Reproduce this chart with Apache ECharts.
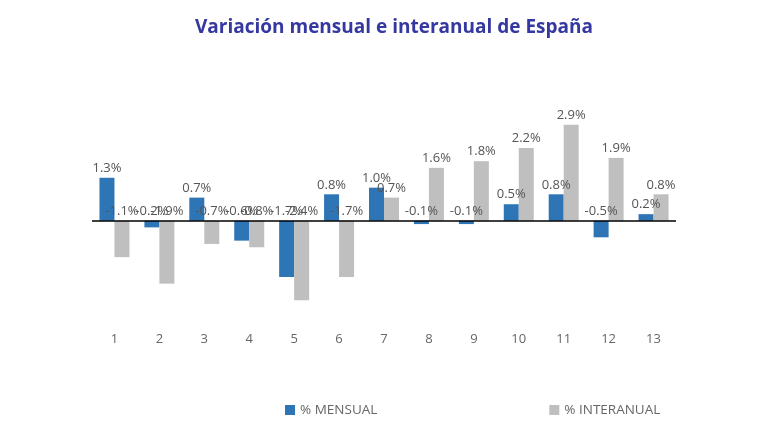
<!DOCTYPE html>
<html>
<head>
    <meta http-equiv="Content-type" content="text/html; charset=utf-8">
    <title>Variación mensual e interanual de España</title>
    <script src="https://cdn.jsdelivr.net/npm/echarts@6/dist/echarts.min.js"></script>
    <style>
        html, body { margin: 0; padding: 0; background: #fff; }
        #container { width: 768px; height: 443px; }
    </style>
</head>
<body>
    <div id="container"></div>
</body>
<script type="text/javascript">
var categories = ['1','2','3','4','5','6','7','8','9','10','11','12','13'];
var mensual    = [1.3, -0.2, 0.7, -0.6, -1.7, 0.8, 1.0, -0.1, -0.1, 0.5, 0.8, -0.5, 0.2];
var interanual = [-1.1, -1.9, -0.7, -0.8, -2.4, -1.7, 0.7, 1.6, 1.8, 2.2, 2.9, 1.9, 0.8];

var dom = document.getElementById("container");
var myChart = echarts.init(dom);

var labelStyle = {
    show: true,
    position: 'top',
    distance: 3,
    color: '#555',
    fontFamily: 'Open Sans',
    fontSize: 13,
    formatter: function (p) { return p.value.toFixed(1) + '%'; }
};

option = {
    animation: false,
    title: {
        text: 'Variación mensual e interanual de España',
        left: 190,
        top: 13,
        textStyle: {
            color: '#3538a0',
            fontFamily: 'Open Sans',
            fontWeight: 'bold',
            fontSize: 19
        }
    },
    legend: {
        top: 398,
        left: 280,
        itemGap: 172,
        itemWidth: 10,
        itemHeight: 10,
        icon: 'rect',
        textStyle: { color: '#666', fontFamily: 'Open Sans', fontSize: 13.5 },
        data: ['% MENSUAL', '% INTERANUAL']
    },
    grid: { left: 92, right: 92, top: 100, bottom: 118 },
    xAxis: {
        type: 'category',
        data: categories,
        axisLine: { show: false, onZero: false },
        axisTick: { show: false },
        axisLabel: { color: '#666', fontFamily: 'Open Sans', fontSize: 13, margin: 8 }
    },
    yAxis: {
        type: 'value',
        min: -3.15,
        max: 3.65,
        show: false,
        splitLine: { show: false }
    },
    series: [
        {
            name: '% MENSUAL',
            type: 'bar',
            data: mensual,
            barWidth: 15,
            barGap: '0%',
            itemStyle: { color: '#2e75b6' },
            label: labelStyle,
            markLine: {
                silent: true,
                symbol: 'none',
                label: { show: false },
                lineStyle: { color: '#000', width: 1.5, type: 'solid' },
                data: [{ yAxis: 0 }]
            }
        },
        {
            name: '% INTERANUAL',
            type: 'bar',
            data: interanual,
            barWidth: 15,
            barGap: '0%',
            itemStyle: { color: '#bfbfbf' },
            label: labelStyle
        }
    ]
};
myChart.setOption(option, true);
</script>
</html>
